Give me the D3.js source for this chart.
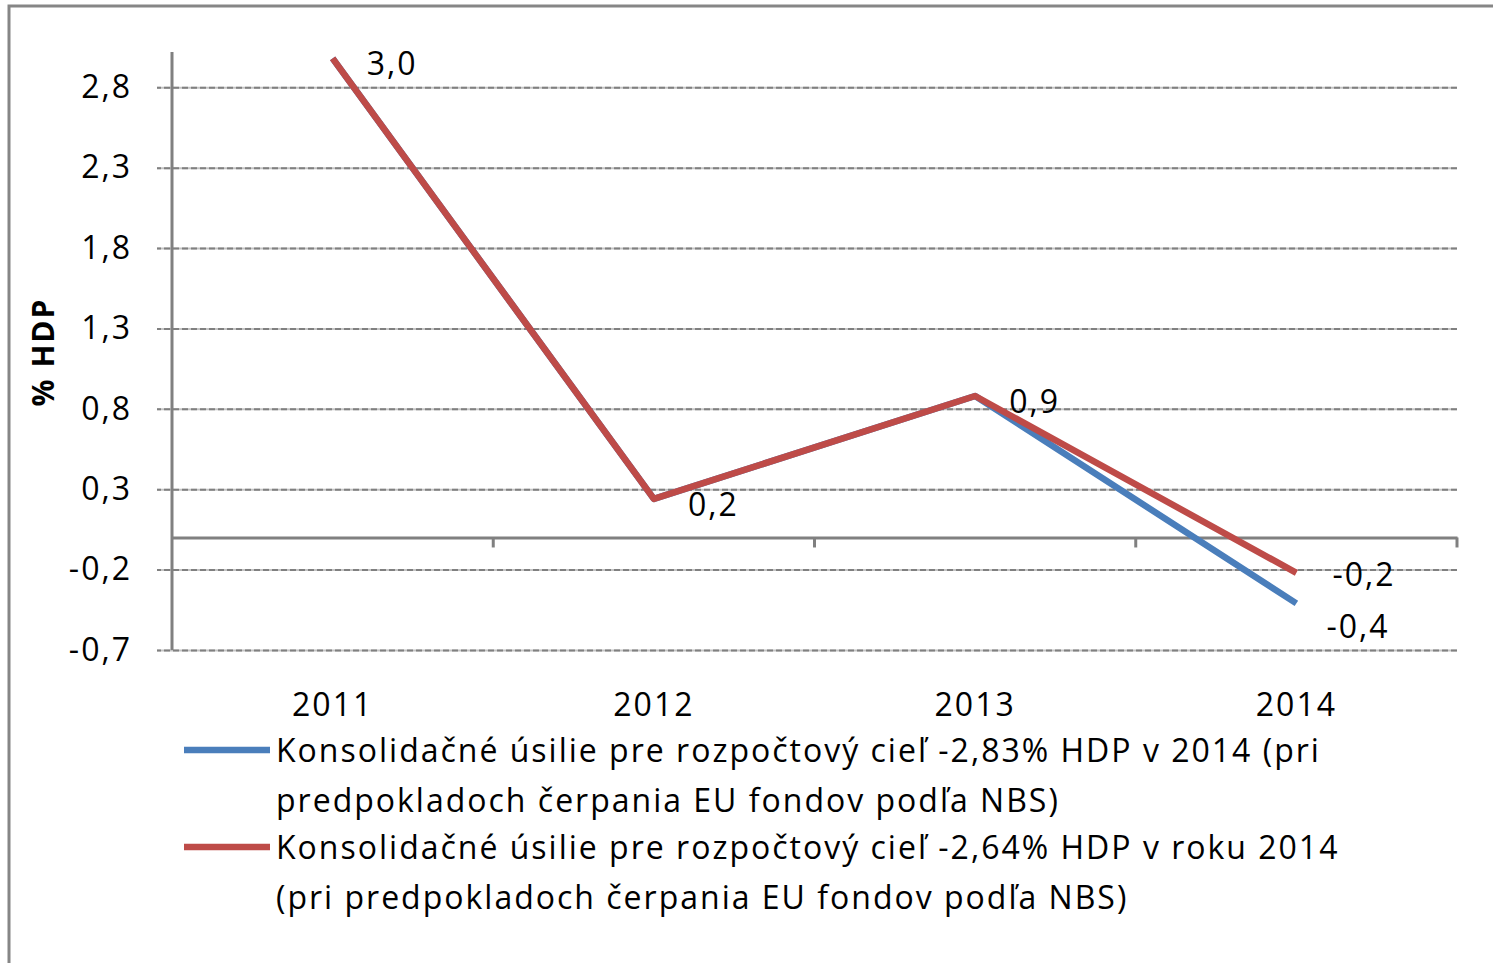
<!DOCTYPE html>
<html>
<head>
  <meta charset="utf-8">
  <title>Konsolidačné úsilie</title>
  <script src="https://cdn.jsdelivr.net/npm/d3@7/dist/d3.min.js"></script>
  <style>
    body { margin: 0; background: #fff; }
    text { font-family: "Open Sans", sans-serif; fill: #000; }
    .tick text { font-size: 32px; letter-spacing: 2px; }
  </style>
</head>
<body>
<svg id="chart" width="1493" height="963"></svg>
<script>
  // data
  const years = ['2011', '2012', '2013', '2014'];
  const blueVals = [2.98, 0.24, 0.88, -0.41];
  const redVals = [2.98, 0.24, 0.88, -0.22];
  const redLabels = ['3,0', '0,2', '0,9', '-0,2'];
  const blueLabels = [null, null, null, '-0,4'];
  const yTicks = [2.8, 2.3, 1.8, 1.3, 0.8, 0.3, -0.2, -0.7];
  const legendLines = [
    ['Konsolidačné úsilie pre rozpočtový cieľ -2,83% HDP v 2014 (pri', 'predpokladoch čerpania EU fondov podľa NBS)'],
    ['Konsolidačné úsilie pre rozpočtový cieľ -2,64% HDP v roku 2014', '(pri predpokladoch čerpania EU fondov podľa NBS)']
  ];

  const blue = '#4a7ebb', red = '#be4b48', axisGray = '#808080';
  const plot = { left: 172, right: 1457, top: 52, bottom: 650 };

  const svg = d3.select('#chart');

  // outer frame
  svg.append('rect')
    .attr('x', 9).attr('y', 6)
    .attr('width', 1500).attr('height', 1000)
    .attr('fill', 'none')
    .attr('stroke', '#868686')
    .attr('stroke-width', 3);

  const x = d3.scaleBand()
    .domain(years)
    .range([plot.left, plot.right]);

  const y = d3.scaleLinear()
    .domain([-0.7, 3.02])
    .range([plot.bottom, plot.top]);

  const fmt = d => d3.format('.1f')(d).replace('.', ',').replace('\u2212', '-');

  // grid lines (light base + dark dashes)
  const gridW = plot.right - 157;
  [['#c4c4c4', null], ['#808080', '6,3']].forEach(([c, dash]) => {
    svg.append('g')
      .attr('transform', `translate(${plot.right},0)`)
      .call(d3.axisLeft(y).tickValues(yTicks).tickSize(gridW).tickFormat(''))
      .call(g => g.select('.domain').remove())
      .call(g => g.selectAll('line')
        .attr('stroke', c)
        .attr('stroke-width', 2)
        .attr('stroke-dasharray', dash));
  });

  // y axis labels + line
  svg.append('g')
    .attr('transform', `translate(${plot.left},0)`)
    .call(d3.axisLeft(y).tickValues(yTicks).tickSize(0).tickPadding(40).tickFormat(fmt))
    .call(g => g.select('.domain').remove());

  svg.append('line')
    .attr('x1', plot.left).attr('x2', plot.left)
    .attr('y1', plot.top).attr('y2', plot.bottom)
    .attr('stroke', axisGray).attr('stroke-width', 3);

  // zero line with category ticks
  svg.append('g')
    .attr('transform', `translate(0,${y(0)})`)
    .call(d3.axisBottom(x).tickSize(0).tickFormat(''))
    .call(g => g.select('.domain').attr('stroke', axisGray).attr('stroke-width', 3));

  svg.append('g')
    .selectAll('line')
    .data(years)
    .join('line')
    .attr('x1', d => x(d) + x.bandwidth()).attr('x2', d => x(d) + x.bandwidth())
    .attr('y1', y(0)).attr('y2', y(0) + 10)
    .attr('stroke', axisGray).attr('stroke-width', 3);

  // category labels at bottom
  svg.append('g')
    .attr('transform', `translate(0,${plot.bottom})`)
    .call(d3.axisBottom(x).tickSize(0).tickPadding(43))
    .call(g => g.select('.domain').remove());

  // y title
  svg.append('text')
    .attr('transform', `translate(54,352) rotate(-90)`)
    .attr('text-anchor', 'middle')
    .style('font-size', '30px')
    .style('letter-spacing', '2px')
    .style('font-weight', 'bold')
    .text('% HDP');

  // lines
  const line = d3.line()
    .x((d, i) => x(years[i]) + x.bandwidth() / 2)
    .y(d => y(d));

  [[blueVals, blue], [redVals, red]].forEach(([vals, c]) => {
    svg.append('path')
      .datum(vals)
      .attr('d', line)
      .attr('fill', 'none')
      .attr('stroke', c)
      .attr('stroke-width', 6.5)
      .attr('stroke-linejoin', 'round');
  });

  // data labels
  const labelG = svg.append('g').style('font-size', '32px').style('letter-spacing', '2px');
  redVals.forEach((v, i) => {
    labelG.append('text')
      .attr('x', x(years[i]) + x.bandwidth() / 2 + (i === 3 ? 36 : 34))
      .attr('y', y(v) + (i === 3 ? 13 : 17))
      .text(redLabels[i]);
  });
  blueVals.forEach((v, i) => {
    if (!blueLabels[i]) return;
    labelG.append('text')
      .attr('x', x(years[i]) + x.bandwidth() / 2 + 30)
      .attr('y', y(v) + 35)
      .text(blueLabels[i]);
  });

  // legend
  const legend = svg.append('g').style('font-size', '32px').style('letter-spacing', '2px');
  [[blue, 750], [red, 847]].forEach(([c, ly], k) => {
    legend.append('line')
      .attr('x1', 184).attr('x2', 270)
      .attr('y1', ly).attr('y2', ly)
      .attr('stroke', c).attr('stroke-width', 6.5);
    legendLines[k].forEach((t, j) => {
      legend.append('text')
        .attr('x', 276)
        .attr('y', ly + 12 + j * 50)
        .text(t);
    });
  });
</script>
</body>
</html>
